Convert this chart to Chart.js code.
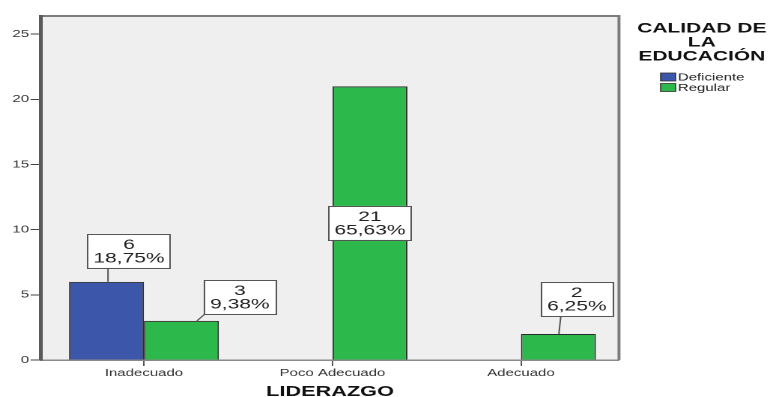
<!DOCTYPE html>
<html>
<head>
<meta charset="utf-8">
<script src="https://cdn.jsdelivr.net/npm/chart.js@4.4.1/dist/chart.umd.min.js"></script>
<style>
  html, body { margin: 0; padding: 0; background: #ffffff; overflow: hidden; }
  #wrap { width: 518px; height: 397px; transform: scaleX(1.498); transform-origin: 0 0; }
</style>
</head>
<body>
<div id="wrap"><canvas id="chart" width="518" height="397"></canvas></div>
<script>
// Frecuencias por nivel de liderazgo y calidad de la educación
const categories = ['Inadecuado', 'Poco Adecuado', 'Adecuado'];
const deficiente = [6, null, null];
const regular = [3, 21, 2];
const yTicks = [0, 5, 10, 15, 20, 25];
const legendTitle = ['CALIDAD DE', 'LA', 'EDUCACIÓN'];
const axisTitle = 'LIDERAZGO';

const total = [...deficiente, ...regular].reduce((s, v) => s + (v || 0), 0);
const pct = v => (v / total * 100).toFixed(2).replace('.', ',') + '%';

// label placement: [box dx from bar centre, gap above bar, leader x at box (rel. box centre), leader x at bar (rel. bar centre)]
// null = label centred inside the bar
const labelPlacement = [
  [[15, 14, -14, 1], null, null],
  [[39, 7, -23.3, 10.3], null, [12.3, 18, -10.7, 0.3]]
];

const FONT = "'Liberation Sans', Arial, Helvetica, sans-serif";
Chart.defaults.font.family = FONT;
Chart.defaults.color = '#333';

const toPoints = arr => arr.map((v, i) => ({ x: i + 1, y: v }));

const plotFrame = {
  id: 'plotFrame',
  beforeDraw(chart) {
    const { ctx, chartArea: a } = chart;
    ctx.save();
    ctx.fillStyle = '#efefef';
    ctx.fillRect(a.left, a.top, a.right - a.left, a.bottom - a.top);
    ctx.strokeStyle = '#7c7c7c';
    ctx.lineWidth = 2;
    ctx.beginPath();
    ctx.moveTo(a.left, a.top);
    ctx.lineTo(a.right, a.top);
    ctx.lineTo(a.right, a.bottom);
    ctx.stroke();
    ctx.restore();
  }
};

const valueLabels = {
  id: 'valueLabels',
  afterDatasetsDraw(chart) {
    const { ctx } = chart;
    ctx.save();
    ctx.font = '14px ' + FONT;
    ctx.textAlign = 'center';
    ctx.textBaseline = 'middle';
    const lh = 13.5;
    chart.data.datasets.forEach((ds, di) => {
      const meta = chart.getDatasetMeta(di);
      meta.data.forEach((bar, i) => {
        const v = ds.data[i].y;
        if (v === null || v === undefined) return;
        const lines = [String(v), pct(v)];
        const w = Math.max(...lines.map(t => ctx.measureText(t).width)) + 8;
        const h = lh * 2 + 7;
        const place = labelPlacement[di][i];
        let cx, cy;
        if (!place) {
          cx = bar.x;
          cy = (bar.y + bar.base) / 2;
        } else {
          cx = bar.x + place[0];
          cy = bar.y - place[1] - h / 2;
          ctx.strokeStyle = '#555';
          ctx.lineWidth = 1;
          ctx.beginPath();
          ctx.moveTo(cx + place[2], cy + h / 2);
          ctx.lineTo(bar.x + place[3], bar.y);
          ctx.stroke();
        }
        ctx.fillStyle = '#ffffff';
        ctx.fillRect(cx - w / 2, cy - h / 2, w, h);
        ctx.strokeStyle = '#555';
        ctx.lineWidth = 1;
        ctx.strokeRect(Math.round(cx - w / 2) + 0.5, Math.round(cy - h / 2) + 0.5, Math.round(w), Math.round(h));
        ctx.fillStyle = '#222';
        ctx.fillText(lines[0], cx, cy - lh / 2 + 1);
        ctx.fillText(lines[1], cx, cy + lh / 2 + 1);
      });
    });
    ctx.restore();
  }
};

const sideLegend = {
  id: 'sideLegend',
  afterDraw(chart) {
    const { ctx } = chart;
    const cx = chart.width - 49.5;
    ctx.save();
    ctx.fillStyle = '#111';
    ctx.textAlign = 'center';
    ctx.textBaseline = 'middle';
    ctx.font = 'bold 14px ' + FONT;
    legendTitle.forEach((t, k) => ctx.fillText(t, cx, 28.5 + k * 14));
    ctx.font = '10px ' + FONT;
    ctx.textAlign = 'left';
    chart.data.datasets.forEach((ds, k) => {
      const y = 77 + k * 10.5;
      const bx = 441;
      ctx.fillStyle = ds.backgroundColor;
      ctx.fillRect(bx, y - 4, 10, 8);
      ctx.strokeStyle = '#333';
      ctx.lineWidth = 0.8;
      ctx.strokeRect(bx, y - 4, 10, 8);
      ctx.fillStyle = '#222';
      ctx.fillText(ds.label, bx + 11.5, y + 0.5);
    });
    ctx.restore();
  }
};

new Chart(document.getElementById('chart'), {
  type: 'bar',
  data: {
    datasets: [
      { label: 'Deficiente', data: toPoints(deficiente), backgroundColor: '#3c56a9', borderColor: '#2a2a2a', borderWidth: 1 },
      { label: 'Regular', data: toPoints(regular), backgroundColor: '#2db84c', borderColor: '#2a2a2a', borderWidth: 1 }
    ]
  },
  options: {
    responsive: false,
    devicePixelRatio: 2,
    animation: false,
    categoryPercentage: 0.795,
    barPercentage: 1,
    layout: { padding: { top: 16, right: 104.8, left: 0, bottom: 0 } },
    plugins: { legend: { display: false }, tooltip: { enabled: false } },
    scales: {
      x: {
        type: 'linear',
        offset: false,
        min: 0.454,
        max: 3.52,
        afterBuildTicks: s => { s.ticks = categories.map((c, i) => ({ value: i + 1 })); },
        afterFit: s => { s.height = 37; },
        ticks: {
          callback: v => categories[v - 1] || '',
          font: { size: 10 },
          color: '#333',
          padding: 1,
          maxRotation: 0,
          autoSkip: false
        },
        grid: { display: true, offset: false, drawOnChartArea: false, drawTicks: true, tickLength: 6, color: '#555', lineWidth: 1 },
        border: { display: true, color: '#8a8a8a', width: 1.5 },
        title: { display: true, text: axisTitle, font: { size: 14.5, weight: 'bold', lineHeight: 1 }, color: '#111', padding: { top: 0, bottom: -2 } }
      },
      y: {
        min: 0,
        max: 26.4,
        afterBuildTicks: s => { s.ticks = yTicks.map(v => ({ value: v })); },
        afterFit: s => { s.width = 27.4; },
        ticks: { font: { size: 10 }, color: '#333', padding: 1 },
        grid: { display: true, drawOnChartArea: false, drawTicks: true, tickLength: 7, color: '#444', lineWidth: 1 },
        border: { display: true, color: '#5a5a5a', width: 2.5 }
      }
    }
  },
  plugins: [plotFrame, valueLabels, sideLegend]
});
</script>
</body>
</html>
